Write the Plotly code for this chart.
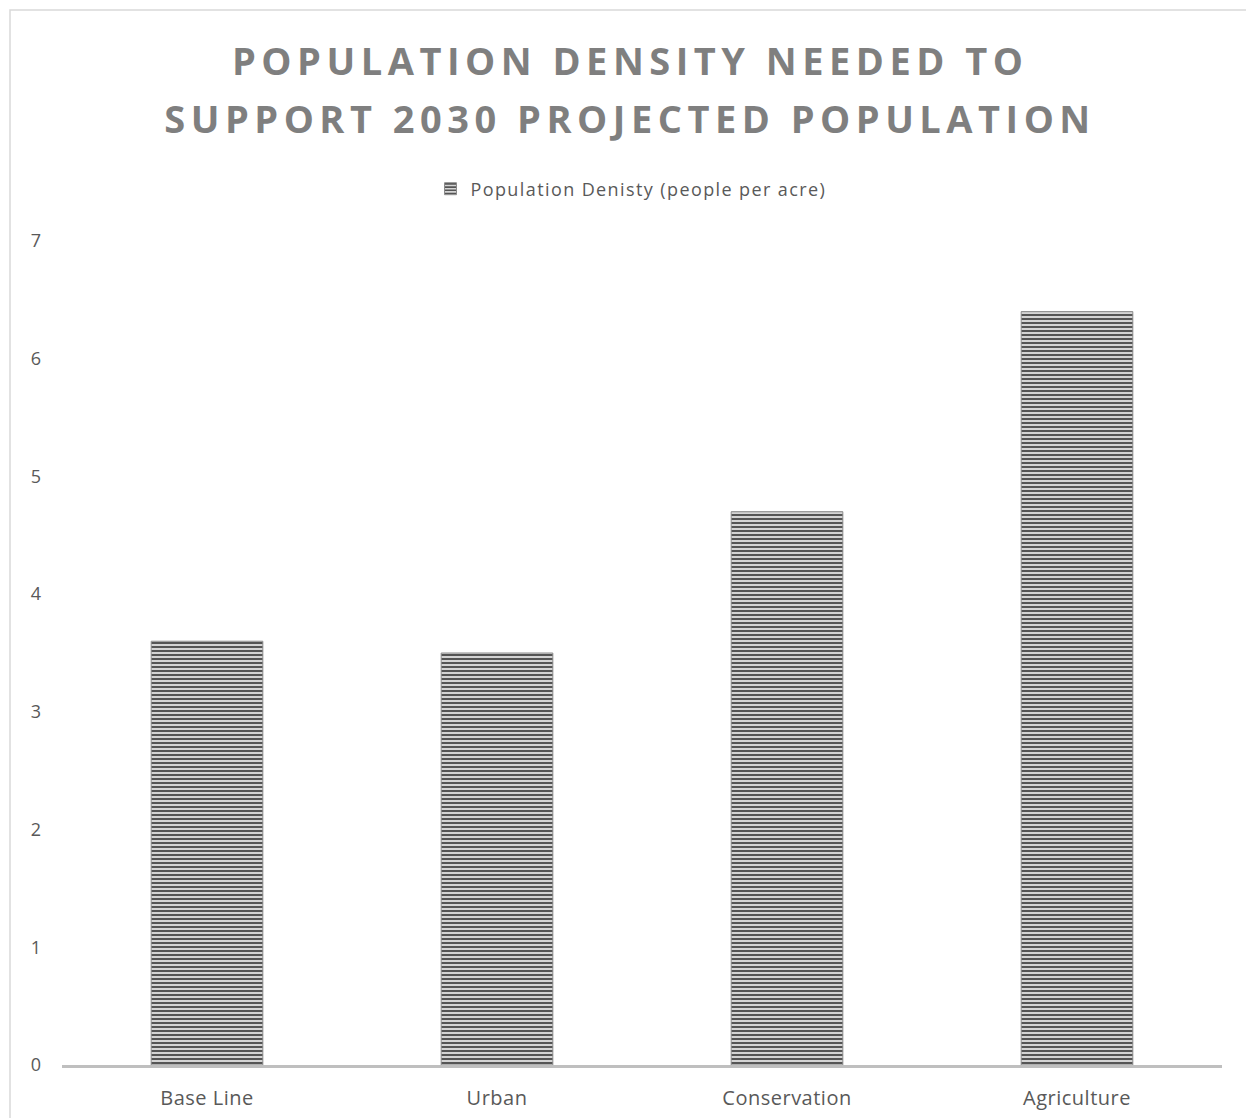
import plotly.graph_objects as go

categories = ["Base Line", "Urban", "Conservation", "Agriculture"]
density = [3.6, 3.5, 4.7, 6.4]
series_name = "Population Denisty (people per acre)"
title_lines = ["POPULATION DENSITY NEEDED TO", "SUPPORT 2030 PROJECTED POPULATION"]

W, H = 1246, 1118
ML, MR, MT, MB = 62, 24, 241, 53
pw, ph = W - ML - MR, H - MT - MB


def py(ypx):
    return (H - MB - ypx) / ph


def px(xpx):
    return (xpx - ML) / pw


fig = go.Figure()
fig.add_trace(go.Bar(
    x=categories, y=density, name=series_name,
    marker=dict(
        color="#d0d0d0",
        line=dict(color="#8a8a8a", width=1),
        pattern=dict(shape="-", size=4, solidity=0.5,
                     fgcolor="#555555", bgcolor="#d4d4d4", fillmode="replace"),
    ),
    showlegend=True,
))

font_fam = "'Open Sans', sans-serif"
annotations = []
for txt, ypx in zip(title_lines, [60, 118]):
    annotations.append(dict(
        text="<b>" + txt + "</b>", xref="paper", yref="paper",
        x=px(W / 2 + 7), y=py(ypx), xanchor="center", yanchor="middle",
        showarrow=False, font=dict(family=font_fam, size=38, color="#7f7f7f"),
    ))

fig.update_layout(
    width=W, height=H,
    margin=dict(l=ML, r=MR, t=MT, b=MB, autoexpand=False),
    paper_bgcolor="white", plot_bgcolor="white",
    bargap=0.615,
    font=dict(family=font_fam, color="#595959", size=17),
    annotations=annotations,
    legend=dict(orientation="h", x=px(606), xanchor="center",
                y=py(189), yanchor="middle",
                font=dict(size=18, color="#595959"), bgcolor="rgba(0,0,0,0)"),
    xaxis=dict(showline=True, linecolor="#bfbfbf", linewidth=3, ticks="",
               showgrid=False, ticklabelstandoff=13, tickfont=dict(size=20),
               automargin=False),
    yaxis=dict(range=[0, 7], dtick=1, showgrid=False, zeroline=False,
               showline=False, ticks="", ticklabelstandoff=20,
               tickfont=dict(size=18), automargin=False),
    shapes=[dict(type="rect", xref="paper", yref="paper",
                 x0=px(10), x1=px(W + 4), y0=py(H + 4), y1=py(10),
                 line=dict(color="#d9d9d9", width=1.5), layer="below")],
)

post = """
var de = document.documentElement, b = document.body;
de.style.overflow = 'hidden'; b.style.overflow = 'hidden';
de.style.margin = '0'; b.style.margin = '0'; b.style.padding = '0';
document.querySelectorAll('.annotation-text').forEach(function(e){ e.style.letterSpacing = '5.5px'; });
document.querySelectorAll('.legend [clip-path]').forEach(function(e){ e.removeAttribute('clip-path'); });
document.querySelectorAll('.legendtext').forEach(function(e){ e.style.letterSpacing = '1.4px'; });
document.querySelectorAll('.xtick text').forEach(function(e){ e.style.letterSpacing = '0.5px'; });
"""
fig.write_html("out.html", post_script=post, config={"displayModeBar": False})
